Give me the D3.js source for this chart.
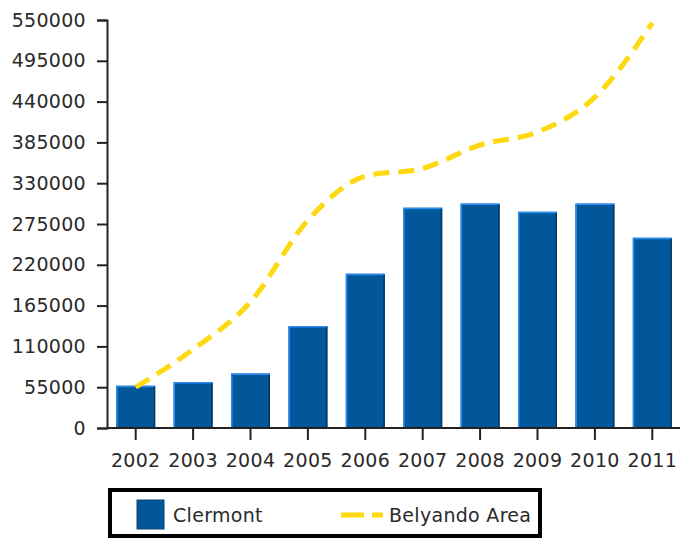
<!DOCTYPE html>
<html>
<head>
<meta charset="utf-8">
<script src="https://cdn.jsdelivr.net/npm/d3@7"></script>
<style>
  body { margin: 0; background: #fff; }
  text { font-family: "DejaVu Sans", Verdana, sans-serif; fill: #2a2a2a; }
</style>
</head>
<body>
<svg id="chart" width="680" height="540"></svg>
<script>
var years = ["2002", "2003", "2004", "2005", "2006", "2007", "2008", "2009", "2010", "2011"];
var clermont = [57000, 62000, 73500, 137500, 208000, 297000, 302500, 291500, 302500, 256500];
var belyando = [55000, 106000, 170000, 280000, 339500, 350000, 381500, 399000, 446000, 546000];
var y_ticks = [0, 55000, 110000, 165000, 220000, 275000, 330000, 385000, 440000, 495000, 550000];

var svg = d3.select("#chart");

var x = d3.scaleBand()
    .domain(years)
    .range([107, 681])
    .paddingInner(0.32)
    .paddingOuter(0.16);

var y = d3.scaleLinear()
    .domain([0, 550000])
    .range([428, 20]);

// bars
var bars = svg.append("g").selectAll("g")
  .data(years)
  .enter()
  .append("g");

bars.append("rect")
    .attr("x", function(d) { return x(d); })
    .attr("y", function(d, i) { return y(clermont[i]); })
    .attr("width", x.bandwidth())
    .attr("height", function(d, i) { return 428 - y(clermont[i]); })
    .attr("fill", "#02579b");

// light edge on left/top, dark edge on right
bars.append("path")
    .attr("d", function(d, i) {
      var x0 = x(d) + 0.75, y0 = y(clermont[i]) + 0.75;
      return "M" + x0 + ",428V" + y0 + "H" + (x(d) + x.bandwidth());
    })
    .attr("fill", "none")
    .attr("stroke", "#2a8df0")
    .attr("stroke-width", 1.5);

bars.append("line")
    .attr("x1", function(d) { return x(d) + x.bandwidth() - 0.75; })
    .attr("x2", function(d) { return x(d) + x.bandwidth() - 0.75; })
    .attr("y1", function(d, i) { return y(clermont[i]) + 1; })
    .attr("y2", 428)
    .attr("stroke", "#06375f")
    .attr("stroke-width", 1.5);

// line
var line = d3.line()
    .x(function(d, i) { return x(years[i]) + x.bandwidth() / 2; })
    .y(function(d) { return y(d); })
    .curve(d3.curveMonotoneX);

svg.append("path")
    .datum(belyando)
    .attr("d", line)
    .attr("fill", "none")
    .attr("stroke", "#ffd90f")
    .attr("stroke-width", 5)
    .attr("stroke-dasharray", "16,9");

// axes
var y_axis = svg.append("g")
    .attr("transform", "translate(107,0)")
    .call(d3.axisLeft(y).tickValues(y_ticks).tickSize(10).tickPadding(11).tickFormat(d3.format("d")));

var x_axis = svg.append("g")
    .attr("transform", "translate(0,428)")
    .call(d3.axisBottom(x).tickSize(12).tickPadding(14).tickSizeOuter(0));

[y_axis, x_axis].forEach(function(ax) {
  ax.select(".domain").attr("stroke", "#222").attr("stroke-width", 2);
  ax.selectAll(".tick line").attr("stroke", "#222").attr("stroke-width", 2);
  ax.selectAll(".tick text")
    .style("font-family", "'DejaVu Sans', Verdana, sans-serif")
    .style("font-size", "19px")
    .style("letter-spacing", "0.3px")
    .attr("fill", "#2a2a2a");
});
x_axis.select(".domain").attr("d", "M107,0H680");

// legend
var legend = svg.append("g");
legend.append("rect")
    .attr("x", 110).attr("y", 490)
    .attr("width", 430).attr("height", 46)
    .attr("fill", "#fff")
    .attr("stroke", "#000")
    .attr("stroke-width", 4);

legend.append("rect")
    .attr("x", 137).attr("y", 500)
    .attr("width", 27).attr("height", 29)
    .attr("fill", "#02579b")
    .attr("stroke", "#0a4677")
    .attr("stroke-width", 1);

legend.append("text")
    .attr("x", 173).attr("y", 522)
    .style("font-size", "19px")
    .style("letter-spacing", "0.3px")
    .text("Clermont");

legend.append("line")
    .attr("x1", 341).attr("x2", 383)
    .attr("y1", 515).attr("y2", 515)
    .attr("stroke", "#ffd90f")
    .attr("stroke-width", 5)
    .attr("stroke-dasharray", "23,8");

legend.append("text")
    .attr("x", 389).attr("y", 522)
    .style("font-size", "19px")
    .style("letter-spacing", "0.3px")
    .text("Belyando Area");
</script>
</body>
</html>
